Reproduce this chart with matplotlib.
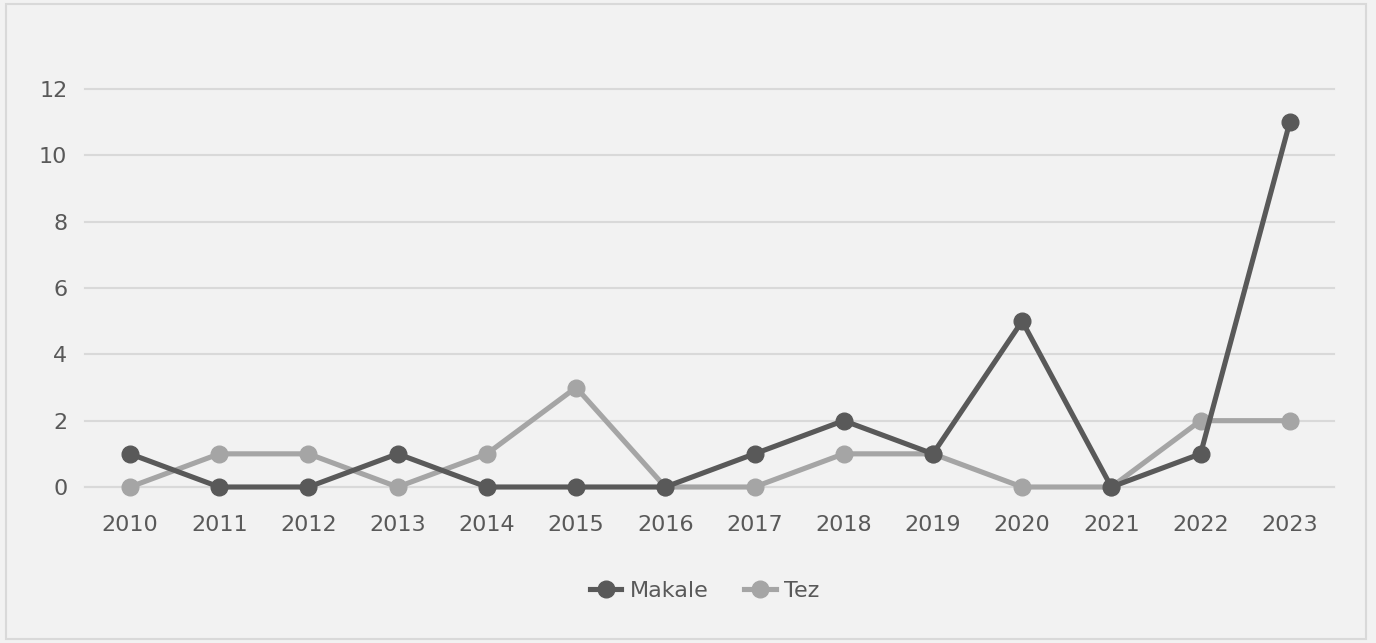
import matplotlib.pyplot as plt
from matplotlib.patches import Rectangle

years = ['2010', '2011', '2012', '2013', '2014', '2015', '2016',
         '2017', '2018', '2019', '2020', '2021', '2022', '2023']
makale = [1, 0, 0, 1, 0, 0, 0, 1, 2, 1, 5, 0, 1, 11]
tez = [0, 1, 1, 0, 1, 3, 0, 0, 1, 1, 0, 0, 2, 2]

W, H = 1376, 643
fig = plt.figure(figsize=(W / 100, H / 100), dpi=100, facecolor='#f2f2f2')
fig.patches.append(Rectangle((6 / W, 4 / H), 1360 / W, 635 / H, transform=fig.transFigure,
                             fill=False, edgecolor='#d9d9d9', linewidth=1.5))

ax = fig.add_axes([85.4 / W, 156 / H, 1249 / W, 398 / H])
ax.set_facecolor('#f2f2f2')

x = list(range(len(years)))
ax.plot(x, tez, color='#a5a5a5', lw=3.7, marker='o', ms=12, label='Tez', zorder=3, clip_on=False)
ax.plot(x, makale, color='#595959', lw=3.7, marker='o', ms=12, label='Makale', zorder=4, clip_on=False)

ax.set_xlim(-0.5, len(years) - 0.5)
ax.set_ylim(0, 12)
ax.set_yticks(range(0, 13, 2))
ax.set_xticks(x)
ax.set_xticklabels(years)
ax.grid(axis='y', color='#d9d9d9', lw=1.5, zorder=0, clip_on=False)
ax.set_axisbelow(True)
for s in ['top', 'right', 'left']:
    ax.spines[s].set_visible(False)
ax.spines['bottom'].set_color('#d9d9d9')
ax.spines['bottom'].set_linewidth(1.5)
ax.tick_params(length=0, labelsize=16, labelcolor='#595959')
ax.tick_params(axis='x', pad=20)
ax.tick_params(axis='y', pad=13)

h, l = ax.get_legend_handles_labels()
fig.legend(h[::-1], l[::-1], loc='center', bbox_to_anchor=(705 / W, 1 - 591 / H), ncol=2,
           frameon=False, fontsize=16, labelcolor='#595959', handlelength=1.4,
           columnspacing=1.6, handletextpad=0.4)

fig.savefig('out.png', dpi=100, facecolor=fig.get_facecolor())
